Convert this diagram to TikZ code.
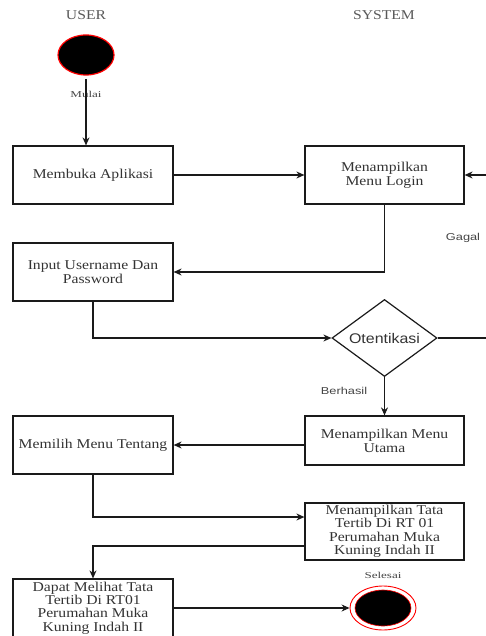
\documentclass[tikz,border=0pt]{standalone}
\usepackage{fontspec}
\setmainfont{Liberation Serif}
\newfontfamily\boxfont{Liberation Serif}[FakeStretch=1.16]
\newfontfamily\smallserif{Liberation Serif}[FakeStretch=1.45]
\newfontfamily\labelsans{Liberation Sans}[FakeStretch=1.28]
\newfontfamily\diafont{Liberation Sans}[FakeStretch=1.14]
\usetikzlibrary{shapes.geometric,arrows.meta}
\definecolor{txt}{HTML}{333333}
\definecolor{hdr}{HTML}{595959}
\definecolor{lbl}{HTML}{444444}
\definecolor{edge}{HTML}{1A1A1A}
\begin{document}
\begin{tikzpicture}[x=1pt,y=-1pt,
  act/.style={draw=edge,line width=1.2pt,rectangle,minimum width=160pt,minimum height=58pt,inner sep=0pt,align=center,text=txt,font=\boxfont\fontsize{13.5}{14}\selectfont},
  hdrtext/.style={text=hdr,font=\boxfont\fontsize{13.5}{14}\selectfont},
  smalltext/.style={text=lbl,font=\smallserif\fontsize{9}{10}\selectfont},
  sanstext/.style={text=lbl,font=\labelsans\fontsize{10}{11}\selectfont},
  conn/.style={draw=edge,line width=1.1pt},
  arr/.style={conn,-{Stealth[length=8pt,width=7pt]}}
]
\useasboundingbox (0,0) rectangle (486,636);
% headers
\node[hdrtext] (huser) at (86,15) {USER};
\node[hdrtext] (hsys) at (384,15) {SYSTEM};
% start
\node[ellipse,draw=red,line width=1.2pt,fill=black,minimum width=56pt,minimum height=40pt,inner sep=0pt] (start) at (86,55) {};
\node[smalltext] (mulai) at (86,94) {Mulai};
% boxes
\node[act] (b1) at (93,175) {Membuka Aplikasi};
\node[act,minimum width=159pt] (b2) at (384.5,175) {Menampilkan\\Menu Login};
\node[act] (b3) at (93,272) {Input Username Dan\\Password};
\node[diamond,draw=edge,line width=1.2pt,minimum width=105pt,minimum height=77pt,aspect=1.36,inner sep=0pt,text=txt,font=\diafont\fontsize{14}{15}\selectfont] (dia) at (384.5,338) {Otentikasi};
\node[act,minimum width=159pt,minimum height=49pt] (b4) at (384.5,440.5) {Menampilkan Menu\\Utama};
\node[act] (b5) at (93,445) {Memilih Menu Tentang};
\node[act,minimum width=159pt,minimum height=57pt,font=\boxfont\fontsize{13.5}{13.5}\selectfont] (b6) at (384.5,531.5) {Menampilkan Tata\\Tertib Di RT 01\\Perumahan Muka\\Kuning Indah II};
\node[act,font=\boxfont\fontsize{13.5}{13.3}\selectfont] (b7) at (93,608) {Dapat Melihat Tata\\Tertib Di RT01\\Perumahan Muka\\Kuning Indah II};
% end
\node[ellipse,draw=red,line width=0.9pt,fill=white,minimum width=66pt,minimum height=44pt,inner sep=0pt] (endo) at (383,608) {};
\node[ellipse,draw=red,line width=0.6pt,fill=black,minimum width=56pt,minimum height=36pt,inner sep=0pt] (endi) at (383,608) {};
\node[smalltext] (selesai) at (383,575) {Selesai};
% labels
\node[sanstext] (gagal) at (463,238) {Gagal};
\node[sanstext] (berhasil) at (344,391) {Berhasil};
% free ends
\coordinate (rin) at (490,175);
\coordinate (rout) at (490,338);
\coordinate (sl) at (86,79);
% connectors
\draw[arr] (sl) -- (sl |- b1.north);
\draw[arr] (b1.east) -- (b2.west);
\draw[arr] (rin) -- (b2.east);
\draw[arr] (b2.south) |- (b3.east);
\draw[arr] (b3.south) |- (dia.west);
\draw[conn] (dia.east) -- (rout);
\draw[arr] (dia.south) -- (dia.south |- b4.north);
\draw[arr] (b4.west |- b5.east) -- (b5.east);
\draw[arr] (b5.south) |- ([yshift=14.5pt]b6.west);
\draw[arr] ([yshift=-14.5pt]b6.west) -| (b7.north);
\draw[arr] (b7.east) -- (endo.west);
\end{tikzpicture}
\end{document}
